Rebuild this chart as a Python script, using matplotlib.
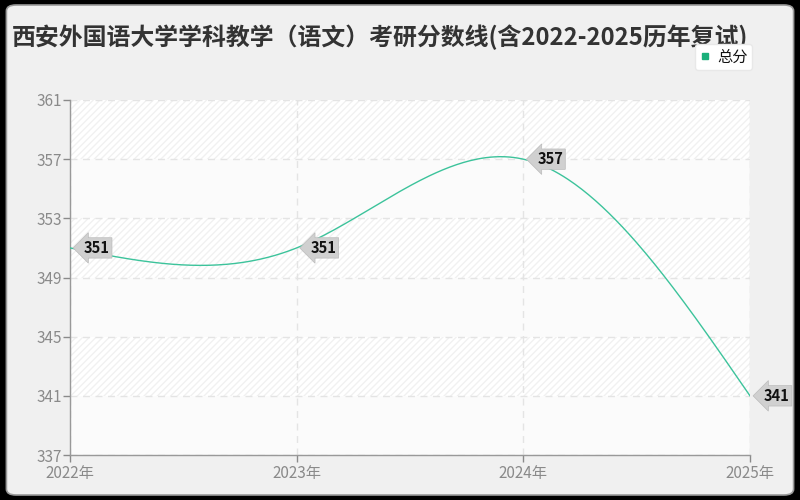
import numpy as np
import matplotlib.pyplot as plt
from matplotlib.lines import Line2D
from matplotlib.patches import FancyBboxPatch, Rectangle

plt.rcParams['font.family'] = ['Noto Sans CJK SC', 'DejaVu Sans']

# 数据
years = [2022, 2023, 2024, 2025]
year_labels = ['2022年', '2023年', '2024年', '2025年']
scores = [351, 351, 357, 341]
y_ticks = [337, 341, 345, 349, 353, 357, 361]
title = '西安外国语大学学科教学（语文）考研分数线(含2022-2025历年复试)'
series_name = '总分'
line_color = '#3cc39b'


def natural_spline(x, y, n=300):
    # 自然三次样条，用来画平滑曲线
    x = np.asarray(x, float)
    y = np.asarray(y, float)
    k = len(x)
    h = np.diff(x)
    A = np.zeros((k, k))
    b = np.zeros(k)
    A[0, 0] = A[-1, -1] = 1
    for i in range(1, k - 1):
        A[i, i - 1] = h[i - 1]
        A[i, i] = 2 * (h[i - 1] + h[i])
        A[i, i + 1] = h[i]
        b[i] = 6 * ((y[i + 1] - y[i]) / h[i] - (y[i] - y[i - 1]) / h[i - 1])
    M = np.linalg.solve(A, b)
    xs = np.linspace(x[0], x[-1], n)
    idx = np.clip(np.searchsorted(x, xs) - 1, 0, k - 2)
    x0, x1 = x[idx], x[idx + 1]
    hh = x1 - x0
    t0, t1 = x1 - xs, xs - x0
    ys = (M[idx] * t0 ** 3 + M[idx + 1] * t1 ** 3) / (6 * hh) \
        + (y[idx] / hh - M[idx] * hh / 6) * t0 \
        + (y[idx + 1] / hh - M[idx + 1] * hh / 6) * t1
    return xs, ys


fig = plt.figure(figsize=(8, 5), dpi=100, facecolor='black')
fig.patches.append(FancyBboxPatch((0.008, 0.01), 0.984, 0.98,
                                  boxstyle='round,pad=0,rounding_size=0.012',
                                  transform=fig.transFigure, fc='#f0f0f0',
                                  ec='#9a9a9a', lw=1.2, zorder=-10))

ax = fig.add_axes([0.0875, 0.09, 0.85, 0.71])
ax.set_facecolor('white')

# 背景条纹
for i in range(len(y_ticks) - 1):
    if i % 2 == 0:
        ax.add_patch(Rectangle((years[0], y_ticks[i]), years[-1] - years[0],
                               y_ticks[i + 1] - y_ticks[i], fc='#fbfbfb',
                               ec='none', zorder=0))
    else:
        ax.add_patch(Rectangle((years[0], y_ticks[i]), years[-1] - years[0],
                               y_ticks[i + 1] - y_ticks[i], fc='white',
                               ec='#f1f1f1', hatch='/////', lw=0, zorder=0))

xs, ys = natural_spline(years, scores)
ax.plot(xs, ys, color=line_color, lw=1, zorder=3)

for x, y in zip(years, scores):
    ax.annotate(str(y), (x, y), xytext=(10, 0), textcoords='offset points',
                ha='left', va='center', fontsize=10.5, fontweight='bold',
                color='#111111', annotation_clip=False, zorder=5,
                bbox=dict(boxstyle='larrow,pad=0.15', fc='#d0d0d0', ec='#bbbbbb', lw=0.5))

ax.set_xlim(years[0], years[-1])
ax.set_ylim(y_ticks[0], y_ticks[-1])
ax.set_xticks(years)
ax.set_xticklabels(year_labels)
ax.set_yticks(y_ticks)
ax.tick_params(colors='#8a8a8a', labelsize=11, length=5, width=1, pad=1)
ax.tick_params(axis='x', pad=2)
ax.grid(True, ls=(0, (5, 4)), color='#e4e4e4', lw=1)
ax.set_axisbelow(True)
for s in ['top', 'right']:
    ax.spines[s].set_visible(False)
for s in ['left', 'bottom']:
    ax.spines[s].set_color('#999999')
    ax.spines[s].set_linewidth(1)
ax.axvline(years[-1], color='#e6e6e6', lw=1)

fig.text(0.015, 0.926, title, fontsize=17.2, fontweight='bold', color='#333333',
         va='center', ha='left')

handle = Line2D([], [], ls='none', marker='s', markersize=5, color='#1aaf7a')
leg = fig.legend([handle], [series_name], loc='upper right',
                 bbox_to_anchor=(0.94, 0.912), borderaxespad=0, frameon=True,
                 fontsize=11, handlelength=0.7, handletextpad=0.45,
                 borderpad=0.3, fancybox=True, labelcolor='#111111')
leg.get_frame().set_edgecolor('#e8e8e8')
leg.get_frame().set_facecolor('white')
leg.get_frame().set_alpha(1)

fig.savefig('out.png', dpi=100, facecolor=fig.get_facecolor())
